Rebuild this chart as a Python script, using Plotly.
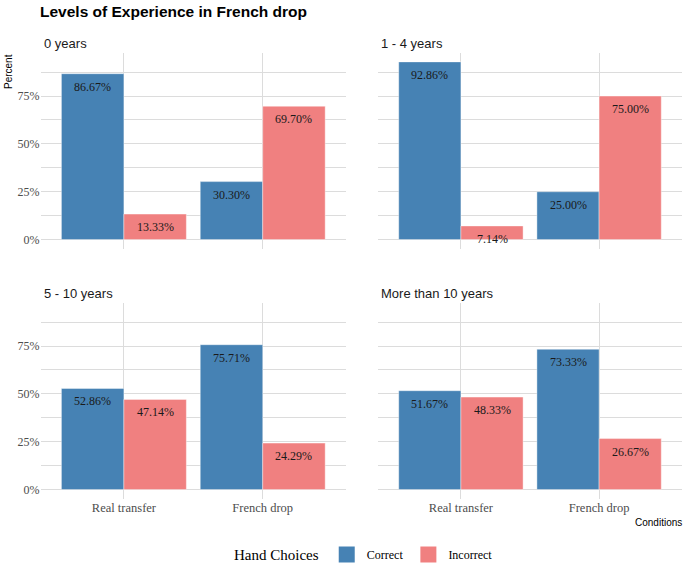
import plotly.graph_objects as go

conditions = ["Real transfer", "French drop"]
panels = ["0 years", "1 - 4 years", "5 - 10 years", "More than 10 years"]
correct = [[86.67, 30.30], [92.86, 25.00], [52.86, 75.71], [51.67, 73.33]]
incorrect = [[13.33, 69.70], [7.14, 75.00], [47.14, 24.29], [48.33, 26.67]]
y_ticks = [0, 25, 50, 75]
y_ticklabels = ["0%", "25%", "50%", "75%"]

W, H = 685, 566
BLUE = "#4682B4"
RED = "#F08080"
GRID = "#dcdcdc"
SERIF = "Liberation Serif, Times New Roman, serif"
SANS = "Liberation Sans, Arial, sans-serif"

# pixel boxes of panels
cols = [(40.6, 346.0), (378.0, 682.0)]
rows = [(53.0, 248.5), (303.0, 498.5)]

ymax = max(max(max(c) for c in correct), max(max(c) for c in incorrect))
yrange = [-0.05 * ymax, ymax * 1.05]

fig = go.Figure()
xs = list(range(len(conditions)))
off = 0.225

for p, name in enumerate(panels):
    r, c = divmod(p, 2)
    idx = p + 1
    xa = "x" if idx == 1 else f"x{idx}"
    ya = "y" if idx == 1 else f"y{idx}"
    for vals, lab, col, sign in [(correct[p], "Correct", BLUE, -1), (incorrect[p], "Incorrect", RED, 1)]:
        fig.add_trace(go.Bar(
            x=xs, y=vals, name=lab, marker=dict(color=col, line=dict(color="rgba(255,255,255,0.5)", width=0.8)),
            xaxis=xa, yaxis=ya, showlegend=False, legendgroup=lab, offsetgroup=lab,
            hoverinfo="skip",
        ))
        for i, v in zip(xs, vals):
            fig.add_annotation(
                x=i + sign * off, y=v, xref=xa, yref=ya, text=f"{v:.2f}%",
                showarrow=False, yanchor="top", xanchor="center", yshift=-4,
                font=dict(family=SERIF, size=12, color="#1a1a1a"),
            )
    x0, x1 = cols[c]
    y0, y1 = rows[r]
    fig.layout[f"xaxis{idx if idx > 1 else ''}"] = dict(
        domain=[x0 / W, x1 / W], range=[-0.6, 1.6], tickvals=xs,
        ticktext=conditions if r == 1 else ["", ""], showticklabels=(r == 1),
        showgrid=True, gridcolor=GRID, gridwidth=1, zeroline=False,
        tickfont=dict(family=SERIF, size=12.5, color="#4d4d4d"), anchor=ya,
        fixedrange=True, automargin=False,
    )
    fig.layout[f"yaxis{idx if idx > 1 else ''}"] = dict(
        domain=[1 - y1 / H, 1 - y0 / H], range=yrange, tickvals=y_ticks,
        ticktext=y_ticklabels, showticklabels=(c == 0),
        showgrid=True, gridcolor=GRID, gridwidth=1, zeroline=False,
        minor=dict(dtick=12.5, tick0=0, showgrid=True, gridcolor=GRID, gridwidth=1),
        tickfont=dict(family=SERIF, size=12, color="#4d4d4d"), anchor=xa,
        fixedrange=True, automargin=False,
    )
    fig.add_annotation(
        text=name, x=(x0 + 1) / W, y=1 - (y0 - 9.5) / H, xref="paper", yref="paper",
        xanchor="left", yanchor="middle", showarrow=False,
        font=dict(family=SANS, size=13, color="#1a1a1a"),
    )

# legend entries with large square keys
for lab, col in [("Correct", BLUE), ("Incorrect", RED)]:
    fig.add_trace(go.Scatter(
        x=[None], y=[None], mode="markers", name=lab, legendgroup=lab,
        marker=dict(symbol="square", size=18, color=col, line=dict(width=0)),
        showlegend=True, hoverinfo="skip",
    ))

fig.add_annotation(text="<b>Levels of Experience in French drop</b>", x=38 / W, y=1 - 1 / H,
                   xref="paper", yref="paper", xanchor="left", yanchor="top", showarrow=False,
                   font=dict(family=SANS, size=15.5, color="#000000"))
fig.add_annotation(text="Percent", x=1 / W, y=1 - 52 / H, xref="paper", yref="paper",
                   xanchor="left", yanchor="top", textangle=-90, showarrow=False,
                   font=dict(family=SANS, size=10, color="#000000"))
fig.add_annotation(text="Conditions", x=684 / W, y=1 - 522 / H, xref="paper", yref="paper",
                   xanchor="right", yanchor="middle", showarrow=False,
                   font=dict(family=SANS, size=10, color="#000000"))

fig.update_layout(
    width=W, height=H, margin=dict(l=0, r=0, t=0, b=0, autoexpand=False),
    paper_bgcolor="white", plot_bgcolor="white",
    barmode="group", bargap=0.1, bargroupgap=0,
    legend=dict(orientation="h", x=365 / W, xanchor="center", xref="container",
                y=1 - 555 / H, yanchor="middle", yref="container",
                itemsizing="trace", itemwidth=30,
                title=dict(text="Hand Choices", side="left", font=dict(family=SERIF, size=15, color="#000")),
                font=dict(family=SERIF, size=12, color="#000")),
)

fig.write_html("out.html", config={"displayModeBar": False},
               post_script="document.body.style.margin='0';document.body.style.overflow='hidden';")
